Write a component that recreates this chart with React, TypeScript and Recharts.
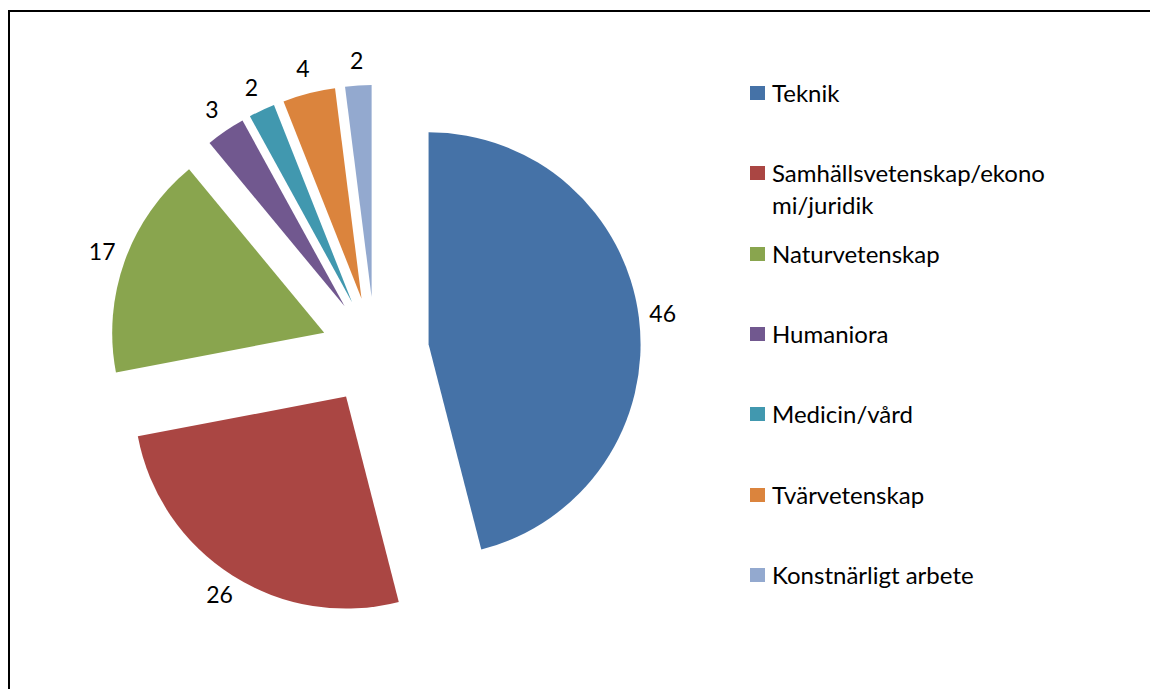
import { PieChart, Pie, Cell, Legend } from 'recharts';

const categories = [
  'Teknik',
  'Samhällsvetenskap/ekonomi/juridik',
  'Naturvetenskap',
  'Humaniora',
  'Medicin/vård',
  'Tvärvetenskap',
  'Konstnärligt arbete',
];
const values = [46, 26, 17, 3, 2, 4, 2];
const colors = ['#4572A7', '#AA4643', '#89A54E', '#71588F', '#4198AF', '#DB843D', '#93A9CF'];

const RADIAN = Math.PI / 180;
const EXPLODE = 54; // every slice pulled out the same distance
const LABEL_DIST = 236; // label centre, measured from the slice tip
const FONT = 'Lato, "Liberation Sans", sans-serif';

const data = categories.map((name, i) => ({ name, value: values[i], fill: colors[i] }));

// clockwise-from-12 angles -> screen offset of each exploded slice
const total = values.reduce((a, b) => a + b, 0);
let acc = 0;
const offsets = values.map((v) => {
  const mid = ((acc + v / 2) / total) * 360;
  acc += v;
  return { dx: EXPLODE * Math.sin(mid * RADIAN), dy: -EXPLODE * Math.cos(mid * RADIAN) };
});

function renderLabel(props: any) {
  const { cx, cy, midAngle, value, index } = props;
  const r = EXPLODE + LABEL_DIST;
  const x = cx + r * Math.cos(-midAngle * RADIAN);
  const y = cy + r * Math.sin(-midAngle * RADIAN);
  return (
    <text
      key={`lbl-${index}`}
      x={x}
      y={y - 2}
      textAnchor="middle"
      dominantBaseline="central"
      fill="#000"
      fontFamily={FONT}
      fontSize={23}
    >
      {value}
    </text>
  );
}

// legend keeps the data order (Recharts would sort it by name)
function LegendList() {
  return (
    <div style={{ fontFamily: FONT, fontSize: 24, color: '#000' }}>
      {categories.map((name, i) => (
        <div key={name} style={{ position: 'relative', height: 80.33 }}>
          <div
            style={{
              position: 'absolute',
              left: 0,
              top: 9,
              width: 15,
              height: 14,
              background: colors[i],
            }}
          />
          <div
            style={{
              position: 'absolute',
              left: 22,
              top: 0,
              width: 280,
              lineHeight: '32px',
              wordBreak: 'break-all',
            }}
          >
            {name}
          </div>
        </div>
      ))}
    </div>
  );
}

export default function App() {
  return (
    <div style={{ position: 'absolute', left: 0, top: 0, width: 1150, height: 689, overflow: 'hidden', background: '#fff' }}>
      <div
        style={{
          position: 'absolute',
          left: 8,
          top: 10,
          width: 1160,
          height: 700,
          borderLeft: '2px solid #000',
          borderTop: '2px solid #000',
        }}
      />
      <div style={{ position: 'absolute', left: 0, top: 0 }}>
        <PieChart width={1150} height={689} margin={{ top: 0, right: 0, bottom: 0, left: 0 }}>
          <Pie
            data={data}
            dataKey="value"
            nameKey="name"
            cx={375}
            cy={351}
            outerRadius={212}
            startAngle={90}
            endAngle={-270}
            stroke="none"
            label={renderLabel}
            labelLine={false}
            isAnimationActive={false}
          >
            {data.map((d, i) => (
              <Cell
                key={d.name}
                fill={d.fill}
                transform={`translate(${offsets[i].dx}, ${offsets[i].dy})`}
              />
            ))}
          </Pie>
          <Legend
            layout="vertical"
            align="right"
            verticalAlign="top"
            content={<LegendList />}
            wrapperStyle={{ position: 'absolute', left: 750, top: 77, width: 340 }}
          />
        </PieChart>
      </div>
    </div>
  );
}
